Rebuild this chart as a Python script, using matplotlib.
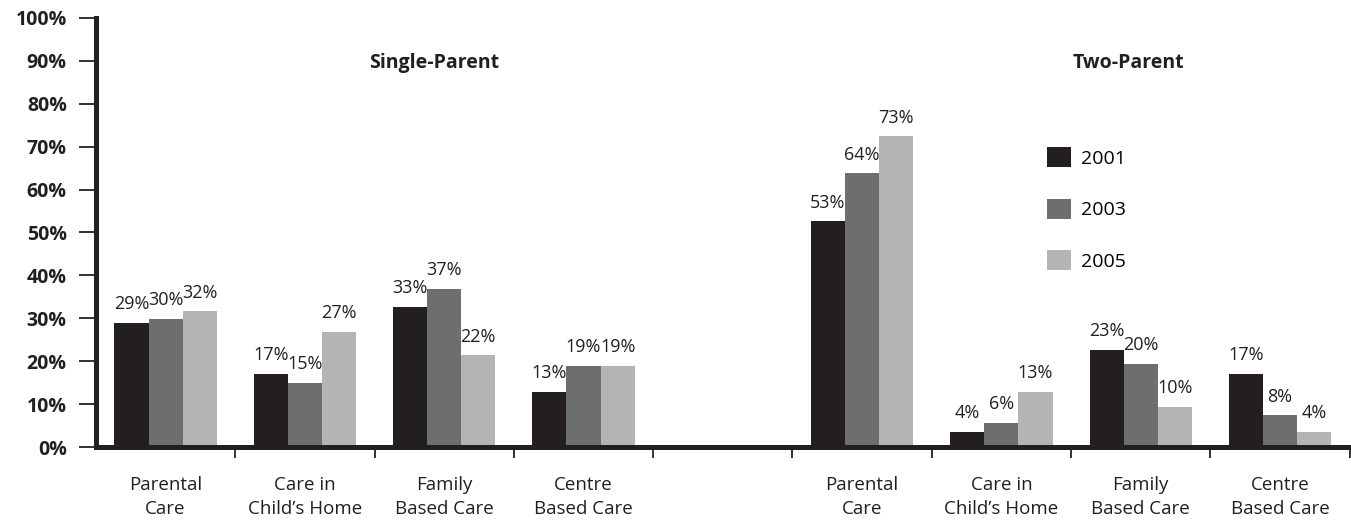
"""Child care arrangements by family type, 2001-2005."""

import matplotlib.pyplot as plt
import numpy as np
from matplotlib.patches import Patch

plt.rcParams["font.family"] = ["Open Sans", "DejaVu Sans"]

categories = [
    "Parental\nCare", "Care in\nChild\u2019s Home", "Family\nBased Care", "Centre\nBased Care",
    "",
    "Parental\nCare", "Care in\nChild\u2019s Home", "Family\nBased Care", "Centre\nBased Care",
]
years = ["2001", "2003", "2005"]
# one value per slot; the empty slot separates the two family types
values_2001 = [28.9, 17.0, 32.7, 12.8, np.nan, 52.6, 3.5, 22.6, 17.0]
values_2003 = [29.9, 14.9, 36.8, 18.9, np.nan, 63.8, 5.6, 19.4, 7.4]
values_2005 = [31.6, 26.9, 21.4, 18.9, np.nan, 72.4, 12.9, 9.4, 3.5]
labels_2001 = ["29%", "17%", "33%", "13%", "", "53%", "4%", "23%", "17%"]
labels_2003 = ["30%", "15%", "37%", "19%", "", "64%", "6%", "20%", "8%"]
labels_2005 = ["32%", "27%", "22%", "19%", "", "73%", "13%", "10%", "4%"]
group_titles = ["Single-Parent", "Two-Parent"]
colors = ["#231f20", "#6d6e70", "#b3b4b6"]

series = [values_2001, values_2003, values_2005]
series_labels = [labels_2001, labels_2003, labels_2005]

fig = plt.figure(figsize=(13.51, 5.26), dpi=100)
ax = fig.add_axes([0.071, 0.150, 0.928, 0.816])

x = np.arange(len(categories))
width = 0.245
for i, (vals, labs, color) in enumerate(zip(series, series_labels, colors)):
    pos = x + (i - 1) * width
    bars = ax.bar(pos, vals, width=width, color=color, zorder=2)
    for b, v, lab in zip(bars, vals, labs):
        if lab:
            ax.annotate(lab, (b.get_x() + b.get_width() / 2, v),
                        xytext=(0, 7), textcoords="offset points",
                        ha="center", va="bottom", fontsize=13, color="#231f20")

ax.set_xlim(-0.5, 8.5)
ax.set_ylim(0, 100)

ax.set_yticks(np.arange(0, 101, 10))
ax.set_yticklabels([f"{v}%" for v in range(0, 101, 10)],
                   fontsize=14, fontweight="bold", color="#231f20")
ax.tick_params(axis="y", length=12, width=1.3, color="#231f20", pad=9)

ax.set_xticks(np.arange(0.5, 8.6, 1.0))
ax.set_xticklabels([])
ax.tick_params(axis="x", which="major", length=8, width=1.3, color="#231f20", direction="out")
ax.set_xticks(x, minor=True)
ax.set_xticklabels(categories, minor=True, fontsize=13.5, color="#231f20", linespacing=1.4)
ax.tick_params(axis="x", which="minor", length=0, pad=21)

for side in ["top", "right"]:
    ax.spines[side].set_visible(False)
ax.spines["left"].set_linewidth(3.6)
ax.spines["bottom"].set_linewidth(3.6)
ax.spines["left"].set_color("#231f20")
ax.spines["bottom"].set_color("#231f20")

ax.text(1.93, 89.5, group_titles[0], ha="center", va="center",
        fontsize=14, fontweight="bold", color="#231f20")
ax.text(6.91, 89.5, group_titles[1], ha="center", va="center",
        fontsize=14, fontweight="bold", color="#231f20")

handles = [Patch(facecolor=c, edgecolor="none") for c in colors]
ax.legend(handles, years, loc="upper left", bbox_to_anchor=(0.745, 0.74),
          frameon=False, fontsize=14, handlelength=1.2, handleheight=1.2,
          labelspacing=1.6, handletextpad=0.5)

fig.savefig("out.png", dpi=100)
plt.close(fig)
